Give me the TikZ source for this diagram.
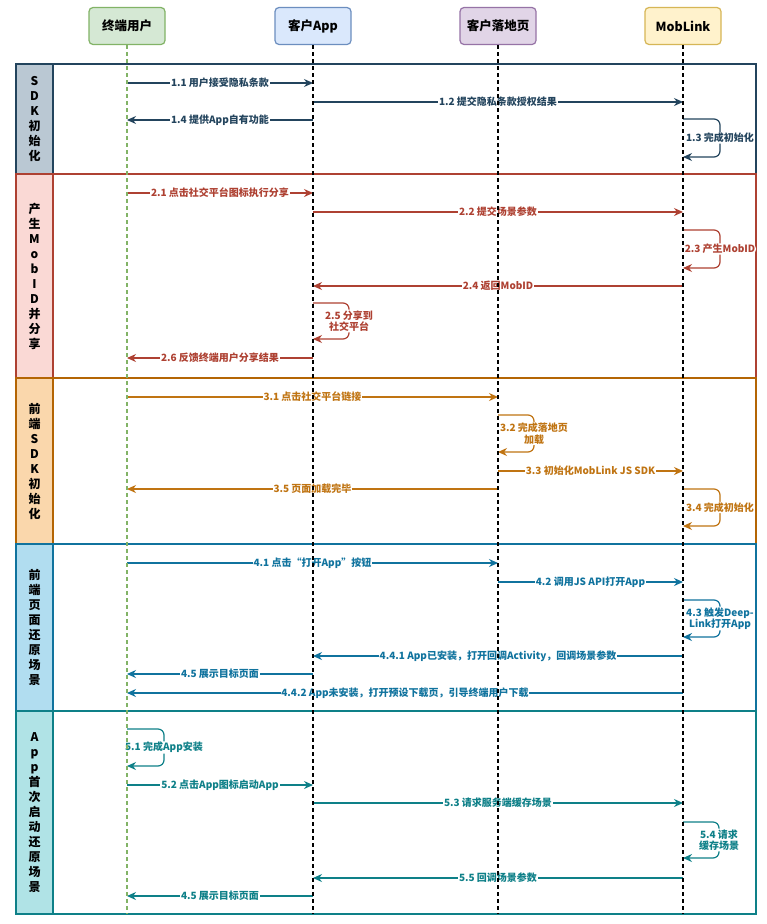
\documentclass[tikz,border=0pt]{standalone}
\usepackage{fontspec}
\setmainfont{Noto Sans CJK SC}
\usetikzlibrary{arrows.meta}
\definecolor{c1}{HTML}{23445D}\definecolor{f1}{HTML}{BAC8D3}
\definecolor{c2}{HTML}{AE4132}\definecolor{f2}{HTML}{FAD9D5}
\definecolor{c3}{HTML}{B46504}\definecolor{f3}{HTML}{FAD7AC}\definecolor{a3}{HTML}{C07412}
\definecolor{c4}{HTML}{10739E}\definecolor{f4}{HTML}{B1DDF0}
\definecolor{c5}{HTML}{0E8088}\definecolor{f5}{HTML}{B0E3E6}
\definecolor{hgf}{HTML}{D5E8D4}\definecolor{hgs}{HTML}{82B366}
\definecolor{hbf}{HTML}{DAE8FC}\definecolor{hbs}{HTML}{6C8EBF}
\definecolor{hpf}{HTML}{E1D5E7}\definecolor{hps}{HTML}{9673A6}
\definecolor{hyf}{HTML}{FFF2CC}\definecolor{hys}{HTML}{D6B656}
\colorlet{cc}{black}
\tikzset{
  msg/.style={draw=cc, line width=1.2pt, -{Stealth[length=9pt,width=8pt]}},
  loopmsg/.style={msg, rounded corners=6pt},
  lbl/.style={fill=white, text=cc, inner sep=0.8pt, align=center,
    font=\bfseries\fontsize{10}{11.5}\selectfont},
  hdr/.style={rounded corners=4pt, line width=1.2pt, minimum width=76pt,
    minimum height=37pt, inner sep=0pt, font=\bfseries\fontsize{12.5}{14}\selectfont},
  life/.style={line width=1.2pt, dash pattern=on 4pt off 3pt},
  laneframe/.style={line width=1.6pt},
  lanelbl/.style={align=center, inner sep=0pt, font=\bfseries\fontsize{12}{15}\selectfont}
}
\begin{document}
\begin{tikzpicture}[x=1pt,y=-1pt]
\useasboundingbox (0,0) rectangle (766,924);
\fill[white] (0,0) rectangle (766,924);

% lanes
\draw[laneframe, draw=c1] (16,64) rectangle (756,174);
\draw[laneframe, draw=c1, fill=f1] (16,64) rectangle (53,174);
\node[lanelbl] (L1) at (34.5,119) {S\\D\\K\\初\\始\\化};

\draw[laneframe, draw=c2] (16,174) rectangle (756,378);
\draw[laneframe, draw=c2, fill=f2] (16,174) rectangle (53,378);
\node[lanelbl] (L2) at (34.5,276) {产\\生\\M\\o\\b\\I\\D\\并\\分\\享};

\draw[laneframe, draw=c3] (16,378) rectangle (756,544);
\draw[laneframe, draw=c3, fill=f3] (16,378) rectangle (53,544);
\node[lanelbl] (L3) at (34.5,461) {前\\端\\S\\D\\K\\初\\始\\化};

\draw[laneframe, draw=c4] (16,544) rectangle (756,711);
\draw[laneframe, draw=c4, fill=f4] (16,544) rectangle (53,711);
\node[lanelbl] (L4) at (34.5,627.5) {前\\端\\页\\面\\还\\原\\场\\景};

\draw[laneframe, draw=c5] (16,711) rectangle (756,914);
\draw[laneframe, draw=c5, fill=f5] (16,711) rectangle (53,914);
\node[lanelbl] (L5) at (34.5,812.5) {A\\p\\p\\首\\次\\启\\动\\还\\原\\场\\景};

% headers
\node[hdr, fill=hgf, draw=hgs] (hU) at (127,26) {终端用户};
\node[hdr, fill=hbf, draw=hbs] (hA) at (313,26) {客户App};
\node[hdr, fill=hpf, draw=hps] (hL) at (498,26) {客户落地页};
\node[hdr, fill=hyf, draw=hys] (hM) at (683,26) {MobLink};

% section 1
\begin{scope}
\colorlet{cc}{c1}
\draw[msg] (hU.south |- 0,83) -- node[lbl] (t11) {1.1 用户接受隐私条款} (hA.south |- 0,83);
\draw[msg] (hA.south |- 0,102) -- node[lbl] (t12) {1.2 提交隐私条款授权结果} (hM.south |- 0,102);
\draw[msg] (hA.south |- 0,120) -- node[lbl] (t14) {1.4 提供App自有功能} (hU.south |- 0,120);
\draw[loopmsg] (hM.south |- 0,119) -- ++(37,0) -- node[lbl] (t13) {1.3 完成初始化} ++(0,38) -- (hM.south |- 0,157);
\end{scope}

% section 2
\begin{scope}
\colorlet{cc}{c2}
\draw[msg] (hU.south |- 0,193) -- node[lbl] (t21) {2.1 点击社交平台图标执行分享} (hA.south |- 0,193);
\draw[msg] (hA.south |- 0,212) -- node[lbl] (t22) {2.2 提交场景参数} (hM.south |- 0,212);
\draw[loopmsg] (hM.south |- 0,230) -- ++(37,0) -- node[lbl] (t23) {2.3 产生MobID} ++(0,38) -- (hM.south |- 0,268);
\draw[msg] (hM.south |- 0,286) -- node[lbl] (t24) {2.4 返回MobID} (hA.south |- 0,286);
\draw[loopmsg] (hA.south |- 0,303) -- ++(36,0) -- node[lbl] (t25) {2.5 分享到\\社交平台} ++(0,36) -- (hA.south |- 0,339);
\draw[msg] (hA.south |- 0,358) -- node[lbl] (t26) {2.6 反馈终端用户分享结果} (hU.south |- 0,358);
\end{scope}

% section 3
\begin{scope}
\colorlet{cc}{a3}
\draw[msg] (hU.south |- 0,397) -- node[lbl] (t31) {3.1 点击社交平台链接} (hL.south |- 0,397);
\draw[loopmsg] (hL.south |- 0,415) -- ++(36,0) -- node[lbl] (t32) {3.2 完成落地页\\加载} ++(0,37) -- (hL.south |- 0,452);
\draw[msg] (hL.south |- 0,471) -- node[lbl] (t33) {3.3 初始化MobLink JS SDK} (hM.south |- 0,471);
\draw[msg] (hL.south |- 0,489) -- node[lbl] (t35) {3.5 页面加载完毕} (hU.south |- 0,489);
\draw[loopmsg] (hM.south |- 0,489) -- ++(37,0) -- node[lbl] (t34) {3.4 完成初始化} ++(0,37) -- (hM.south |- 0,526);
\end{scope}

% section 4
\begin{scope}
\colorlet{cc}{c4}
\draw[msg] (hU.south |- 0,563) -- node[lbl] (t41) {4.1 点击“打开App”按钮} (hL.south |- 0,563);
\draw[msg] (hL.south |- 0,582) -- node[lbl] (t42) {4.2 调用JS API打开App} (hM.south |- 0,582);
\draw[loopmsg] (hM.south |- 0,600) -- ++(37,0) -- node[lbl] (t43) {4.3 触发Deep-\\Link打开App} ++(0,37) -- (hM.south |- 0,637);
\draw[msg] (hM.south |- 0,656) -- node[lbl] (t441) {4.4.1 App已安装，打开回调Activity，回调场景参数} (hA.south |- 0,656);
\draw[msg] (hA.south |- 0,674) -- node[lbl] (t45a) {4.5 展示目标页面} (hU.south |- 0,674);
\draw[msg] (hM.south |- 0,693) -- node[lbl] (t442) {4.4.2 App未安装，打开预设下载页，引导终端用户下载} (hU.south |- 0,693);
\end{scope}

% section 5
\begin{scope}
\colorlet{cc}{c5}
\draw[loopmsg] (hU.south |- 0,729) -- ++(37,0) -- node[lbl] (t51) {5.1 完成App安装} ++(0,37) -- (hU.south |- 0,766);
\draw[msg] (hU.south |- 0,785) -- node[lbl] (t52) {5.2 点击App图标启动App} (hA.south |- 0,785);
\draw[msg] (hA.south |- 0,803) -- node[lbl] (t53) {5.3 请求服务端缓存场景} (hM.south |- 0,803);
\draw[loopmsg] (hM.south |- 0,822) -- ++(36,0) -- node[lbl] (t54) {5.4 请求\\缓存场景} ++(0,36) -- (hM.south |- 0,858);
\draw[msg] (hM.south |- 0,878) -- node[lbl] (t55) {5.5 回调场景参数} (hA.south |- 0,878);
\draw[msg] (hA.south |- 0,896) -- node[lbl] (t45b) {4.5 展示目标页面} (hU.south |- 0,896);
\end{scope}

% lifelines
\draw[life, draw=hgs] (hU.south) -- (hU.south |- 0,914);
\draw[life] (hA.south) -- (hA.south |- 0,914);
\draw[life] (hL.south) -- (hL.south |- 0,914);
\draw[life] (hM.south) -- (hM.south |- 0,914);
\end{tikzpicture}
\end{document}
